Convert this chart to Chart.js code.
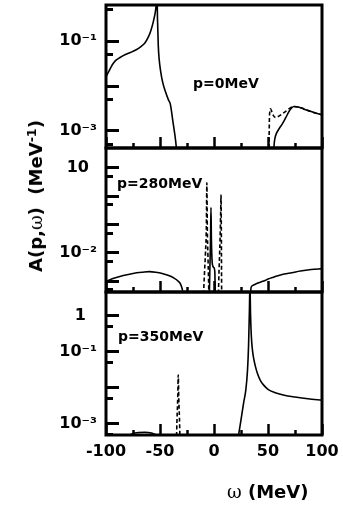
<!DOCTYPE html>
<html>
<head>
<meta charset="utf-8">
<script src="https://cdn.jsdelivr.net/npm/chart.js@4"></script>
<style>
  body { margin: 0; background: #fff; }
  #wrap { position: relative; width: 343px; height: 512px; overflow: hidden;
          font-family: 'DejaVu Sans', sans-serif; font-weight: bold; color: #000; }
  canvas { position: absolute; left: 0; }
  .lbl { position: absolute; white-space: nowrap; line-height: 1; }
  .om { font-family: 'DejaVu Serif', serif; font-weight: normal; }
  sup { font-size: 0.7em; vertical-align: 0.5em; line-height: 0; }
</style>
</head>
<body>
<div id="wrap">
  <canvas id="c0" width="343" height="150" style="top:0"></canvas>
  <canvas id="c1" width="343" height="148" style="top:146px"></canvas>
  <canvas id="c2" width="343" height="222" style="top:290px"></canvas>
  <div class="lbl" style="left:193px; top:76px; font-size:14px">p=0MeV</div>
  <div class="lbl" style="left:117px; top:176px; font-size:14px">p=280MeV</div>
  <div class="lbl" style="left:118px; top:329px; font-size:14px">p=350MeV</div>
  <div class="lbl" style="left:36px; top:196px; font-size:18px; transform: translate(-50%, -50%) rotate(-90deg)">A(p,<span class="om">ω</span>)&nbsp;&nbsp;(MeV<sup>-1</sup>)</div>
  <div class="lbl" style="left:227px; top:483px; font-size:18px"><span class="om">ω</span> (MeV)</div>
</div>
<script>
// energy axis, shared by the three panels
const omegaTicks = [-100, -75, -50, -25, 0, 25, 50, 75, 100];
const omegaLabels = ['-100', '', '-50', '', '0', '', '50', '', '100'];

// p = 0 MeV
const p0Ticks = [0.0005, 0.001, 0.005, 0.01, 0.05, 0.1, 0.5];
const p0TickLabels = ['', '10⁻³', '', '', '', '10⁻¹', ''];
const p0SolidW = [-100, -97, -94, -91, -87, -82, -77, -72, -68, -64, -61, -58.5, -56.5, -55, -54, -53.3, -52.8, -52.3, -51.6, -50.8, -49.5, -47.5, -45, -42, -40.5, -38, -35.5, -34];
const p0SolidA = [0.016, 0.022, 0.030, 0.037, 0.043, 0.050, 0.056, 0.064, 0.074, 0.09, 0.12, 0.17, 0.25, 0.36, 0.5, 0.75, 1.2, 0.3, 0.08, 0.04, 0.022, 0.012, 0.0075, 0.0048, 0.004, 0.0016, 0.0006, 0.00025];
const p0SolidRW = [55, 56, 57.5, 59, 61, 63, 65, 67, 69, 71, 74, 78, 83, 88, 94, 100];
const p0SolidRA = [0.0003, 0.0006, 0.00085, 0.001, 0.0012, 0.0014, 0.0017, 0.0021, 0.0026, 0.0031, 0.0035, 0.0034, 0.0031, 0.0028, 0.0025, 0.0023];
const p0DashW = [50.8, 51.4, 52.3, 53.5, 55, 57, 59.5, 63, 67, 71, 74, 78, 83, 88, 94, 100];
const p0DashA = [0.0003, 0.0022, 0.0031, 0.0027, 0.0022, 0.002, 0.0021, 0.0024, 0.0028, 0.0033, 0.0035, 0.0034, 0.0031, 0.0028, 0.0025, 0.0023];

// p = 280 MeV
const p280Ticks = [0.0005, 0.001, 0.005, 0.01, 0.05, 0.1, 0.5, 1, 5, 10];
const p280TickLabels = ['', '', '', '10⁻²', '', '', '', '', '', '10\u2002'];
const p280SolidW = [-100, -92, -84, -75, -66, -60, -54, -48, -42, -37, -33, -31, -29.5, -28.5, -27.5, -4.5, -3.8, -3.2, -2.8, -2.4, -1.5, 0, 0.8, 1.3, 33.3, 34.3, 36, 40, 45, 48, 50, 55, 60, 65, 72, 80, 90, 100];
const p280SolidA = [0.001, 0.0013, 0.0016, 0.0019, 0.0021, 0.0022, 0.0021, 0.0019, 0.0016, 0.0013, 0.001, 0.0008, 0.00055, 0.00035, 0.0002, 0.0002, 0.003, 0.03, 0.4, 0.03, 0.004, 0.003, 0.002, 0.0002, 0.0002, 0.0006, 0.00072, 0.00085, 0.001, 0.0011, 0.0012, 0.0014, 0.0016, 0.0018, 0.002, 0.0023, 0.0026, 0.0028];
const p280DashW = [-10, -8.8, -7.9, -7.1, -6.6, -6.2, -5.6, -5.0, -4.6, 3.8, 4.6, 5.6, 6.2, 6.5, 6.8, 7.1];
const p280DashA = [0.0002, 0.002, 0.01, 0.08, 3, 0.08, 0.008, 0.001, 0.0002, 0.0002, 0.002, 0.03, 0.3, 1.1, 0.05, 0.0002];

// p = 350 MeV
const p350Ticks = [0.0005, 0.001, 0.005, 0.01, 0.05, 0.1, 0.5, 1];
const p350TickLabels = ['', '10⁻³', '', '', '', '10⁻¹', '', '1\u2002\u2009'];
const p350SolidW = [-100, -85, -76, -70, -64, -58, -53, -47, 20, 22.5, 25, 27.5, 29.5, 31, 32, 32.8, 33.3, 33.8, 34.5, 35.5, 37, 38.5, 40.5, 43, 46, 50, 56, 65, 75, 87, 100];
const p350SolidA = [0.0003, 0.0004, 0.00053, 0.00058, 0.00059, 0.00056, 0.00048, 0.0003, 0.0002, 0.00045, 0.0013, 0.004, 0.009, 0.03, 0.15, 1.5, 8, 1.2, 0.3, 0.12, 0.06, 0.038, 0.024, 0.016, 0.012, 0.0092, 0.0075, 0.0063, 0.0056, 0.005, 0.0046];
const p350DashW = [-35, -34.2, -33.6, -33.1, -32.6, -32, -31.3];
const p350DashA = [0.0002, 0.0015, 0.005, 0.023, 0.005, 0.0015, 0.0002];

Chart.defaults.font.family = "'DejaVu Sans', sans-serif";
Chart.defaults.color = '#000';

const isDecade = v => Math.abs(Math.log10(v) - Math.round(Math.log10(v))) < 1e-6;
const isMinorOmega = v => v % 50 !== 0;

// heavy box round the plot area
const frame = {
  id: 'frame',
  afterDatasetsDraw(chart) {
    const { ctx, chartArea: a } = chart;
    ctx.save();
    ctx.lineWidth = 3;
    ctx.strokeStyle = '#000';
    ctx.strokeRect(a.left, a.top, a.right - a.left, a.bottom - a.top);
    ctx.restore();
  }
};

function line(w, a, dashed) {
  return {
    data: w.map((x, i) => ({ x: x, y: a[i] })),
    borderColor: '#000',
    borderWidth: 1.6,
    borderDash: dashed ? [4, 2.5] : [],
    pointRadius: 0,
    cubicInterpolationMode: 'monotone',
    fill: false
  };
}

function panel(id, cfg) {
  return new Chart(document.getElementById(id), {
    type: 'line',
    data: { datasets: cfg.series },
    options: {
      responsive: false,
      animation: false,
      events: [],
      layout: { padding: { top: cfg.padTop, right: 21, left: 0, bottom: 0 } },
      plugins: { legend: { display: false }, tooltip: { enabled: false } },
      scales: {
        x: {
          type: 'linear', min: -100, max: 100,
          afterBuildTicks: s => { s.ticks = omegaTicks.map(v => ({ value: v })); },
          afterFit: s => { s.height = cfg.xHeight; s.paddingLeft = 0; s.paddingRight = 0; },
          border: { display: false },
          grid: {
            drawOnChartArea: false, tickLength: -11, tickWidth: 2.5, tickColor: '#000',
            tickBorderDash: c => (c.tick && isMinorOmega(c.tick.value)) ? [5, 30] : []
          },
          ticks: {
            display: cfg.showX, autoSkip: false, maxRotation: 0, padding: 18,
            font: { size: 16, weight: 'bold' },
            callback: (v, i) => omegaLabels[i]
          }
        },
        y: {
          type: 'logarithmic', min: cfg.min, max: cfg.max,
          afterBuildTicks: s => { s.ticks = cfg.ticks.map(v => ({ value: v })); },
          afterFit: s => { s.width = 106; s.paddingTop = 0; s.paddingBottom = 0; },
          border: { display: false },
          grid: {
            drawOnChartArea: false, tickLength: -13, tickWidth: 3, tickColor: '#000',
            tickBorderDash: c => (c.tick && !isDecade(c.tick.value)) ? [7, 6] : [],
            tickBorderDashOffset: c => (c.tick && !isDecade(c.tick.value)) ? 7 : 0
          },
          ticks: {
            autoSkip: false, padding: 22,
            font: { size: 16, weight: 'bold' },
            callback: (v, i) => cfg.labels[i]
          }
        }
      }
    },
    plugins: [frame]
  });
}

panel('c0', {
  padTop: 5, xHeight: 2, showX: false, min: 4.19e-4, max: 0.631,
  ticks: p0Ticks, labels: p0TickLabels,
  series: [line(p0SolidW, p0SolidA), line(p0SolidRW, p0SolidRA), line(p0DashW, p0DashA, true)]
});

panel('c1', {
  padTop: 2, xHeight: 2, showX: false, min: 4.2e-4, max: 50.8,
  ticks: p280Ticks, labels: p280TickLabels,
  series: [line(p280SolidW, p280SolidA), line(p280DashW, p280DashA, true)]
});

panel('c2', {
  padTop: 2, xHeight: 77, showX: true, min: 4.94e-4, max: 4.64,
  ticks: p350Ticks, labels: p350TickLabels,
  series: [line(p350SolidW, p350SolidA), line(p350DashW, p350DashA, true)]
});
</script>
</body>
</html>
